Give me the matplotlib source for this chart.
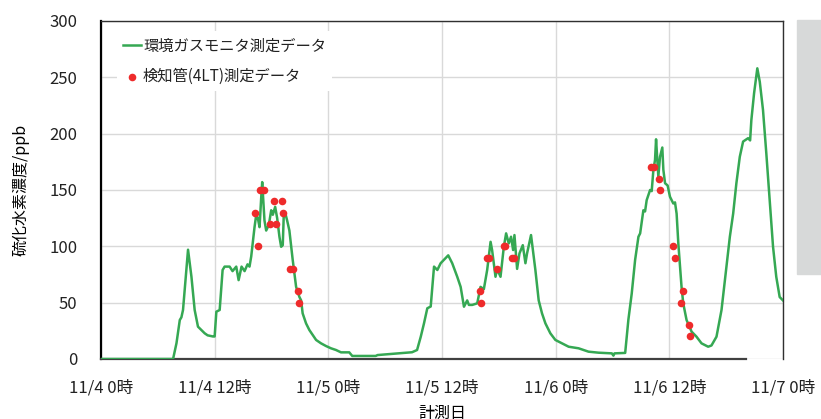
"""Hydrogen sulfide concentration: gas monitor vs. detector tube readings."""

import matplotlib

matplotlib.use("Agg")
import matplotlib.pyplot as plt
from matplotlib.patches import Rectangle

plt.rcParams["font.family"] = ["Noto Sans CJK JP", "DejaVu Sans"]

# hours elapsed since 11/4 0:00
monitor_hours = [
    0, 7.61, 7.97, 8.32, 8.49, 8.66, 9.19, 9.55, 9.89, 10.24, 10.6, 10.95, 11.26, 11.82, 12.0,
    12.18, 12.53, 12.84, 13.05, 13.58, 13.89, 14.28, 14.53, 14.84, 15.16, 15.47, 15.68,
    15.86, 16.21, 16.39, 16.56, 16.74, 16.92, 17.02, 17.16, 17.26, 17.44, 17.72, 17.97,
    18.14, 18.39, 18.6, 18.84, 19.02, 19.19, 19.29, 19.47, 19.65, 19.89,
    20.24, 20.6, 20.95, 21.13, 21.29, 21.65, 22.0, 22.35, 22.71, 23.23, 23.76, 24.28,
    24.81, 25.34, 26.21, 26.53, 29.0, 29.2, 31.47, 32.84, 33.37,
    33.76, 34.1, 34.45, 34.81, 35.16, 35.51, 35.86, 36.66, 37.08, 37.61, 37.97, 38.32,
    38.66, 38.84, 39.19, 39.72, 40.07, 40.42, 40.77, 41.13, 41.29, 41.65, 41.82, 42.18,
    42.53, 42.77, 43.05, 43.29, 43.51, 43.65, 43.93, 44.18, 44.53, 44.81, 44.98, 45.4, 45.86,
    46.21, 46.56, 46.92, 47.44, 47.97, 48.66, 49.37, 50.42, 51.47, 52.53, 53.93, 54.1, 54.21, 55.34,
    55.68, 56.03, 56.39, 56.74, 56.92, 57.26, 57.44, 57.61, 57.97, 58.14, 58.32, 58.49, 58.6,
    58.74, 58.84, 59.02, 59.26, 59.37, 59.55, 59.82, 60.07, 60.42, 60.6, 60.77, 60.95, 61.13,
    61.29, 61.47, 61.82, 62.35, 62.87, 63.4, 64.1, 64.45, 64.98, 65.51, 66.03, 66.39, 66.74,
    67.08, 67.44, 67.79, 68.32, 68.53, 68.66, 68.95, 69.29, 69.55, 69.89, 70.24, 70.6, 70.95,
    71.29, 71.65, 72.0,
]
monitor_ppb = [
    0, 0, 14, 34.6, 37, 43.5, 97, 73, 43.5, 28.7, 25.7, 22.8, 21, 20, 20,
    42, 43.5, 79, 82, 82, 78, 82, 70, 82, 78, 84, 82,
    91, 117, 128, 125, 117, 144, 157, 138, 123, 114, 119, 132,
    128, 135, 125, 108.5, 99.6, 101, 126, 129, 123, 114,
    88, 64, 55, 52, 40.5, 31.6, 25.7, 21.3, 16.9, 13.9, 11.5, 9.5,
    8, 5.9, 5.9, 2.7, 2.7, 3.5, 5, 6, 8,
    19.8, 31.6, 45, 46.6, 82, 79, 85, 92, 85, 73, 64, 46.4,
    52, 48, 48, 49.4, 64, 62, 79, 104, 96.7, 73, 80, 73,
    99.6, 111.5, 102.6, 108.5, 96.7, 110, 80, 93.7, 101, 85, 93.7, 110, 79,
    52, 40.5, 31.6, 22.8, 16.9, 13.9, 10.9, 9.5, 6.5, 5.6, 5, 3, 5, 5.4,
    35, 58, 88, 108.5, 111.5, 132, 131, 141, 150, 149, 168, 176.6, 195,
    176, 162, 179.5, 187.7, 168, 156, 154, 144, 138, 139, 129, 102.6, 82,
    64, 49.4, 34.6, 24.3, 19.8, 13.9, 10.9, 12, 19.8, 43.5, 82, 108.5, 129,
    156, 179.5, 193, 196, 194, 212, 236, 258, 246, 221, 182.5, 141, 99.6,
    73, 55, 52,
]

tube_hours = [
    16.24, 16.56, 16.84, 17.16, 17.85, 18.45, 18.25, 19.12, 19.26, 19.97, 20.24, 20.77, 20.95,
    39.97, 40.07, 40.75, 41.0, 41.82, 42.5, 42.7, 43.35, 43.6,
    58.07, 58.35, 58.91, 59.05, 60.42, 60.6, 61.4, 61.26, 62.03, 62.18,
]
tube_ppb = [
    130, 100, 150, 150, 120, 120, 140, 140, 130, 80, 80, 60, 50,
    60, 50, 90, 90, 80, 100, 100, 90, 90,
    170, 170, 160, 150, 100, 90, 60, 50, 30, 20,
]

tick_hours = [0, 12, 24, 36, 48, 60, 72]
tick_labels = ["11/4 0時", "11/4 12時", "11/5 0時", "11/5 12時", "11/6 0時", "11/6 12時", "11/7 0時"]

fig = plt.figure(figsize=(8.21, 4.19), dpi=100)
ax = fig.add_axes([0.123, 0.1432, 0.8307, 0.8067])

ax.plot(monitor_hours, monitor_ppb, color="#35a853", lw=1.8, label="環境ガスモニタ測定データ", zorder=3)
ax.scatter(tube_hours, tube_ppb, s=30, color="#ee2b2b", linewidths=0, label="検知管(4LT)測定データ", zorder=4)

ax.set_xlim(0, 72)
ax.set_ylim(0, 300)
ax.set_xticks(tick_hours)
ax.set_xticklabels(tick_labels)
ax.set_yticks(range(0, 301, 50))
ax.tick_params(axis="both", length=0, labelsize=12, colors="#222222")
ax.tick_params(axis="y", pad=17)
ax.tick_params(axis="x", pad=15)
ax.grid(color="#d9d9d9", lw=1)
ax.set_axisbelow(True)

for side in ["top", "right"]:
    ax.spines[side].set_color("#303030")
    ax.spines[side].set_linewidth(1.0)
ax.spines["left"].set_color("black")
ax.spines["left"].set_linewidth(1.6)
ax.spines["bottom"].set_color("#404040")
ax.spines["bottom"].set_linewidth(1.6)
ax.spines["bottom"].set_bounds(0, 68.1)

ax.set_ylabel("硫化水素濃度/ppb", fontsize=11.5, labelpad=14)
ax.set_xlabel("計測日", fontsize=11.5, labelpad=6)

leg = ax.legend(loc="upper left", bbox_to_anchor=(0.0235, 0.97), fontsize=11,
                handlelength=1.2, handletextpad=0.1, labelspacing=0.9, borderaxespad=0,
                fancybox=False, framealpha=1, edgecolor="none", scatterpoints=1)
for txt in leg.get_texts():
    txt.set_color("#222222")

# panel edge on the right
fig.add_artist(Rectangle((797 / 821, 1 - 274 / 419), 24 / 821, 254 / 419,
                         transform=fig.transFigure, color="#d7d9d9", zorder=0))

fig.savefig("out.png", dpi=100)
